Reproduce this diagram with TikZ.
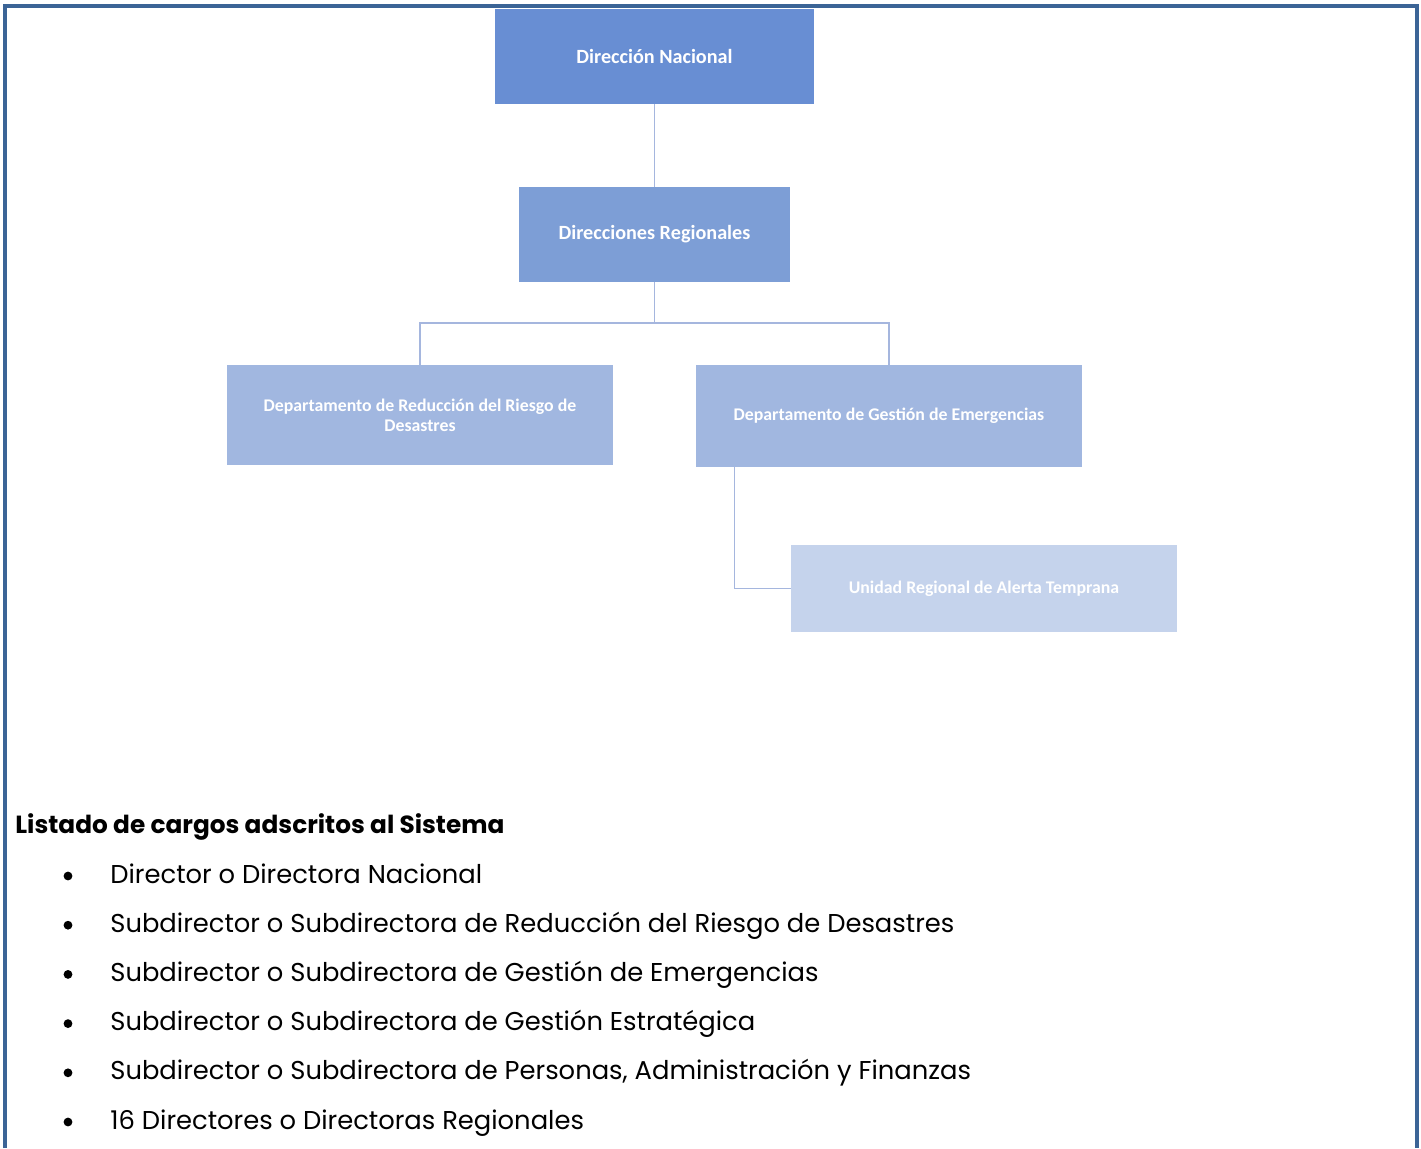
\documentclass[tikz,border=0pt]{standalone}
\usepackage{fontspec}
\setmainfont{Poppins}
\newfontfamily\boxfont{Carlito}

\definecolor{framblue}{RGB}{59,100,150}
\definecolor{dnblue}{RGB}{104,142,211}
\definecolor{drblue}{RGB}{125,158,214}
\definecolor{depblue}{RGB}{161,183,224}
\definecolor{unitblue}{RGB}{197,211,236}
\definecolor{lineblue}{RGB}{165,182,222}

\tikzset{
  orgbox/.style={rectangle, inner sep=0pt, text=white, align=center, font=\boxfont\bfseries},
  orgline/.style={draw=lineblue, line width=0.75pt},
  listitem/.style={anchor=base west, inner sep=0pt, font=\fontsize{12.9}{15}\selectfont}
}

\begin{document}
\begin{tikzpicture}[x=0.5pt,y=-0.5pt]

    % Drawing Parameters
    \pgfmathsetmacro{\listtop}{883}%
    \pgfmathsetmacro{\listgap}{49.2}%

    \useasboundingbox (0,0) rectangle (1421,1148);

    % Frame
    \draw[framblue, line width=1.7pt] (5,1148) -- (5,6) -- (1417,6) -- (1417,1148);

    %% Boxes
    \node[orgbox, fill=dnblue, minimum width=159.5pt, minimum height=47.5pt, font=\boxfont\bfseries\fontsize{10.1}{12}\selectfont]
      (dn) at (654.5,56.5) {Dirección Nacional};
    \node[orgbox, fill=drblue, minimum width=135.5pt, minimum height=47.5pt, font=\boxfont\bfseries\fontsize{10.1}{12}\selectfont]
      (dr) at (654.5,234.5) {Direcciones Regionales};
    \node[orgbox, fill=depblue, minimum width=193pt, minimum height=50pt, font=\boxfont\bfseries\fontsize{8.9}{10}\selectfont]
      (drrd) at (420,415) {Departamento de Reducción del Riesgo de\\Desastres};
    \node[orgbox, fill=depblue, minimum width=193pt, minimum height=51pt, font=\boxfont\bfseries\fontsize{8.9}{10}\selectfont]
      (dge) at (889,416) {Departamento de Gestión de Emergencias};
    \node[orgbox, fill=unitblue, minimum width=193pt, minimum height=43.5pt, font=\boxfont\bfseries\fontsize{8.9}{10}\selectfont]
      (urat) at (984,588.5) {Unidad Regional de Alerta Temprana};

    %% Connectors
    \coordinate (bus) at (654.5,323);
    \draw[orgline] (dn.south) -- (dr.north);
    \draw[orgline] (dr.south) -- (bus) -| (drrd.north);
    \draw[orgline] (bus) -| (dge.north);
    \draw[orgline] ([xshift=19.5pt]dge.south west) |- (urat.west);

    %% List
    \node[anchor=base west, inner sep=0pt, font=\bfseries\fontsize{12.4}{15}\selectfont]
      (listhead) at (15,833) {Listado de cargos adscritos al Sistema};
    \foreach \entry [count=\i] in {%
        {Director o Directora Nacional},
        {Subdirector o Subdirectora de Reducción del Riesgo de Desastres},
        {Subdirector o Subdirectora de Gestión de Emergencias},
        {Subdirector o Subdirectora de Gestión Estratégica},
        {Subdirector o Subdirectora de Personas, Administración y Finanzas},
        {16 Directores o Directoras Regionales}} {
      \fill (68,\listtop-7+\listgap*\i-\listgap) circle (2.2pt);
      \node[listitem] (entry\i) at (110,\listtop+\listgap*\i-\listgap) {\entry};
    }
  \end{tikzpicture}
\end{document}
